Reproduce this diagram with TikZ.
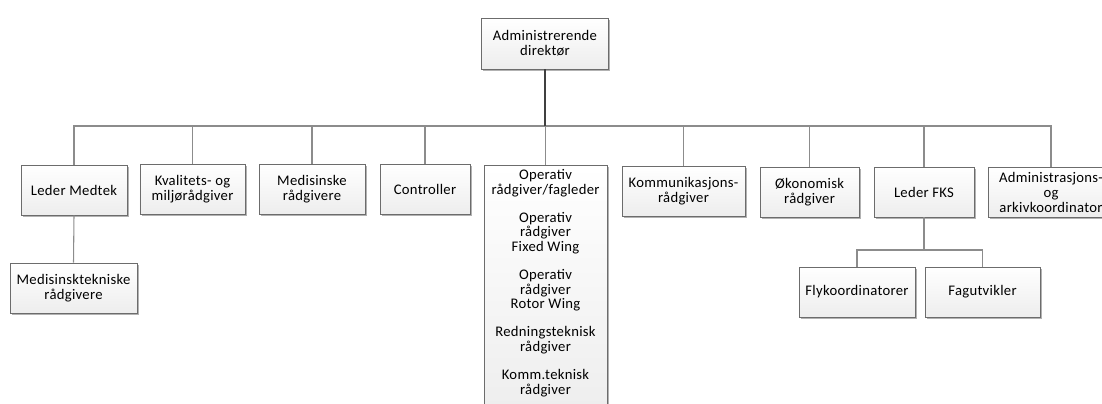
\documentclass[tikz,border=0pt]{standalone}
\usepackage{fontspec}
\setmainfont{Carlito}[LetterSpace=2]
\usetikzlibrary{shadows}

\tikzset{
  box/.style={draw=gray!85!black,top color=white,bottom color=gray!14,
    drop shadow={shadow xshift=1.3pt,shadow yshift=-1.3pt,fill=black,opacity=.3},
    minimum height=37.5pt,align=center,inner sep=2pt,
    font=\fontsize{11}{11}\selectfont},
  link/.style={draw=gray!90,line width=.8pt},
  trunk/.style={draw=black!75,line width=.9pt}
}

\begin{document}
\begin{tikzpicture}[x=.75pt,y=-.75pt]
    \useasboundingbox (0,0) rectangle (1102,403);
    % top
    \node[box,minimum width=95pt,minimum height=38pt] (dir) at (545,43.5) {Administrerende\\direktør};
    % first level
    \node[box,minimum width=79.5pt] (medtek) at (74,190) {Leder Medtek};
    \node[box,minimum width=79pt] (kval) at (192.5,189) {Kvalitets- og\\miljørådgiver};
    \node[box,minimum width=79.5pt] (medr) at (312,189) {Medisinske\\rådgivere};
    \node[box,minimum width=67.5pt] (ctrl) at (425,189) {Controller};
    \node[box,minimum width=92pt,minimum height=191pt,anchor=north] (oper) at (545.5,165) {};
    \node[align=center,anchor=north,inner sep=3pt,font=\fontsize{11}{11}\selectfont] (opertxt) at (oper.north)
      {Operativ\\rådgiver/fagleder\\[10pt]Operativ\\rådgiver\\Fixed Wing\\[10pt]Operativ\\rådgiver\\Rotor Wing\\[10pt]Redningsteknisk\\rådgiver\\[10pt]Komm.teknisk\\rådgiver};
    \node[box,minimum width=92pt] (komm) at (683.5,191) {Kommunikasjons-\\rådgiver};
    \node[box,minimum width=74pt] (okon) at (809.5,192.5) {Økonomisk\\rådgiver};
    \node[box,minimum width=75pt] (fks) at (924,192) {Leder FKS};
    \node[box,minimum width=94.5pt] (adm) at (1051,192.5) {Administrasjons-\\og\\arkivkoordinator};
    % second level
    \node[box,minimum width=95pt] (mtr) at (73.5,288) {Medisinsktekniske\\rådgivere};
    \node[box,minimum width=87pt] (fly) at (857,292) {Flykoordinatorer};
    \node[box,minimum width=86pt] (fag) at (982.5,292) {Fagutvikler};
    % connectors
    \coordinate (bus) at (545,126);
    \coordinate (fksbus) at (924,250);
    \foreach \n in {medtek,kval,medr,ctrl,oper,komm,okon,fks,adm}
      \draw[link] (\n.north) |- (bus);
    \draw[trunk] (dir.south) -- (bus);
    \draw[link] (medtek.south) -- (mtr.north);
    \draw[link] (fks.south) -- (fksbus);
    \draw[link] (fly.north) |- (fksbus);
    \draw[link] (fag.north) |- (fksbus);
\end{tikzpicture}
\end{document}
